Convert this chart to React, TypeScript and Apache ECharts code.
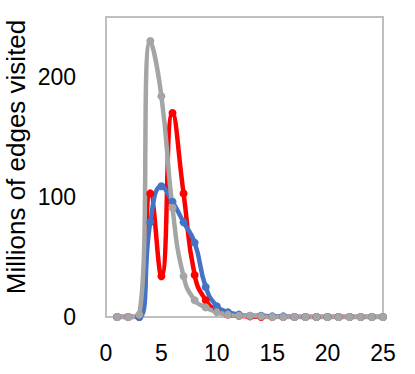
import React, { useEffect, useRef } from "react";
import * as echarts from "echarts";

const xValues = [1, 2, 3, 4, 5, 6, 7, 8, 9, 10, 11, 12, 13, 14, 15, 16, 17, 18, 19, 20, 21, 22, 23, 24, 25];
const redValues = [0, 0, 0, 103, 34, 170, 103, 35, 14, 5, 2, 1, 0.5, 0, 0, 0, 0, 0, 0, 0, 0, 0, 0, 0, 0];
const blueValues = [0, 0, 0, 79, 109, 96, 79, 62, 25, 9, 4, 2, 1, 1, 0.5, 0.5, 0, 0, 0, 0, 0, 0, 0, 0, 0];
const grayValues = [0, 0, 2, 230, 184, 91, 34, 14, 8, 4, 2, 1, 1, 0.5, 0, 0, 0, 0, 0, 0, 0, 0, 0, 0, 0];
const xTicks = [0, 5, 10, 15, 20, 25];
const yTicks = [0, 100, 200];
const yAxisTitle = "Millions of edges visited";

const pair = (vals: number[]) => xValues.map((x, i) => [x, vals[i]]);

export default function App() {
  const ref = useRef<HTMLDivElement>(null);
  useEffect(() => {
    if (!ref.current) return;
    document.body.style.margin = "0";
    const chart = echarts.init(ref.current, null, { renderer: "svg" });
    const font = "'Liberation Sans', Arial, sans-serif";
    const mk = (name: string, vals: number[], color: string) => ({
      name,
      type: "line",
      data: pair(vals),
      smooth: 0.5,
      symbol: "circle",
      symbolSize: 8,
      lineStyle: { color, width: 4.5 },
      itemStyle: { color },
    });
    chart.setOption({
      animation: false,
      grid: {
        left: 106,
        right: 32,
        top: 17,
        bottom: 57,
        show: true,
        borderColor: "#BFBFBF",
        borderWidth: 2,
        containLabel: false,
        outerBoundsMode: "none",
      },
      graphic: [
        {
          type: "text",
          x: 16,
          y: 157,
          rotation: Math.PI / 2,
          style: {
            text: yAxisTitle,
            fill: "#000",
            fontSize: 26,
            fontFamily: font,
            align: "center",
            verticalAlign: "middle",
          },
        },
      ],
      xAxis: {
        type: "value",
        min: xTicks[0],
        max: xTicks[xTicks.length - 1],
        interval: 5,
        axisLine: { show: true, lineStyle: { color: "#BFBFBF", width: 2 } },
        axisTick: { show: false },
        splitLine: { show: false },
        axisLabel: { color: "#000", fontSize: 23, fontFamily: font, margin: 24 },
      },
      yAxis: {
        type: "value",
        min: yTicks[0],
        max: 250,
        interval: 100,
        axisLine: { show: false },
        axisTick: { show: false },
        splitLine: { show: false },
        axisLabel: {
          color: "#000",
          fontSize: 23,
          fontFamily: font,
          margin: 30,
          showMaxLabel: false,
          formatter: (v: number) => (yTicks.includes(v) ? String(v) : ""),
        },
      },
      series: [
        mk("red", redValues, "#FF0000"),
        mk("blue", blueValues, "#4472C4"),
        mk("gray", grayValues, "#A5A5A5"),
      ],
    });
    return () => chart.dispose();
  }, []);
  return <div ref={ref} style={{ width: 415, height: 374 }} />;
}
